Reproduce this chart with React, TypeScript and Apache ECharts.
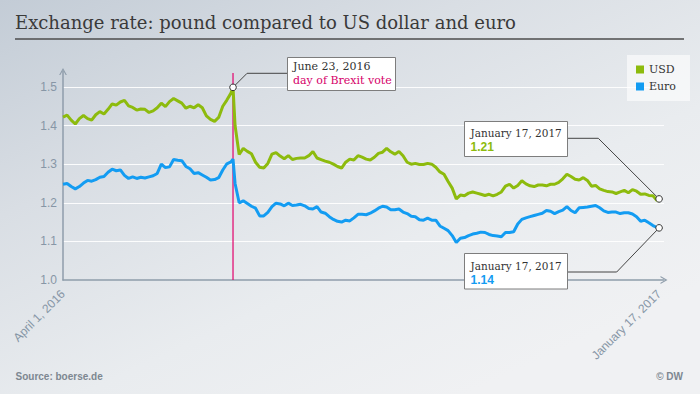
import React, { useEffect, useRef } from "react";
import * as echarts from "echarts";

const title = "Exchange rate: pound compared to US dollar and euro";
const seriesNames = ["USD", "Euro"];
// x positions are day offsets from April 1, 2016
const dayOffsets = [
  0, 2, 4, 6, 8, 10, 12, 14, 16, 18, 20, 22, 24, 26, 28, 30, 32, 34, 36, 38, 40,
  42, 44, 46, 48, 50, 52, 54, 56, 58, 60, 62, 64, 66, 68, 70, 72, 74, 76, 78, 80, 82,
  83,
  84, 86, 88, 90, 92, 94, 96, 98, 100, 102, 104, 106, 108, 110, 112, 114, 116, 118,
  120, 122, 124, 126, 128, 130, 132, 134, 136, 138, 140, 142, 144, 146, 148, 150,
  152, 154, 156, 158, 160, 162, 164, 166, 168, 170, 172, 174, 176, 178, 180, 182,
  184, 186, 188, 190, 192, 194, 196, 198, 200, 202, 204, 206, 208, 210, 212, 214,
  216, 218, 220, 222, 224, 226, 228, 230, 232, 234, 236, 238, 240, 242, 244, 246,
  248, 250, 252, 254, 256, 258, 260, 262, 264, 266, 268, 270, 272, 274, 276, 278,
  280, 282, 284, 286, 288, 290,
  291,
];

const usd = [
  1.422, 1.427, 1.414, 1.404, 1.418, 1.426, 1.418, 1.414, 1.428, 1.436, 1.43,
  1.442, 1.456, 1.453, 1.461, 1.465, 1.451, 1.447, 1.44, 1.443, 1.442, 1.434,
  1.438, 1.446, 1.458, 1.449, 1.462, 1.47, 1.464, 1.458, 1.445, 1.45, 1.446,
  1.454, 1.446, 1.425, 1.416, 1.411, 1.421, 1.45, 1.466, 1.484,
  1.499,
  1.4,
  1.325, 1.341, 1.333, 1.327, 1.305, 1.292, 1.29, 1.302, 1.326, 1.33,
  1.321, 1.314, 1.322, 1.312, 1.315, 1.316, 1.316, 1.322, 1.333, 1.316,
  1.312, 1.308, 1.305, 1.3, 1.294, 1.29, 1.305, 1.313, 1.311, 1.322,
  1.318, 1.313, 1.311, 1.318, 1.328, 1.331, 1.341, 1.332, 1.326, 1.333,
  1.322, 1.305, 1.3, 1.302, 1.299, 1.299, 1.302, 1.3, 1.292, 1.28,
  1.274, 1.255, 1.238, 1.21, 1.22, 1.218, 1.225, 1.228, 1.225, 1.222,
  1.219, 1.222, 1.218, 1.222, 1.228, 1.243, 1.248, 1.238, 1.245, 1.257,
  1.249, 1.244, 1.242, 1.246, 1.246, 1.244, 1.248, 1.248, 1.253, 1.262,
  1.274, 1.268, 1.261, 1.259, 1.265, 1.258, 1.243, 1.245, 1.236, 1.232,
  1.229, 1.228, 1.224, 1.228, 1.232, 1.226, 1.234, 1.23, 1.222, 1.223,
  1.219, 1.218, 1.206,
  1.21,
];

const eur = [
  1.248, 1.25, 1.242, 1.236, 1.242, 1.251, 1.258, 1.256, 1.26, 1.266, 1.268,
  1.279, 1.287, 1.283, 1.285, 1.271, 1.263, 1.267, 1.263, 1.266, 1.264, 1.267,
  1.27, 1.276, 1.3, 1.291, 1.293, 1.312, 1.31, 1.309, 1.294, 1.288, 1.276,
  1.278, 1.272, 1.266, 1.259, 1.26, 1.265, 1.285, 1.301, 1.306,
  1.313,
  1.25,
  1.2, 1.205, 1.198, 1.191, 1.186, 1.166, 1.166, 1.175, 1.19, 1.199,
  1.197, 1.192, 1.199, 1.193, 1.194, 1.196, 1.192, 1.185, 1.184, 1.19,
  1.176, 1.173, 1.164, 1.157, 1.152, 1.15, 1.155, 1.153, 1.161, 1.17,
  1.17, 1.169, 1.173, 1.179, 1.186, 1.191, 1.189, 1.182, 1.182, 1.184,
  1.176, 1.172, 1.165, 1.164, 1.156, 1.155, 1.16, 1.155, 1.155, 1.14,
  1.134, 1.128, 1.115, 1.097, 1.108, 1.11, 1.115, 1.119, 1.121, 1.124,
  1.123, 1.118, 1.115, 1.114, 1.112, 1.123, 1.123, 1.125, 1.145, 1.157,
  1.161, 1.164, 1.167, 1.17, 1.173, 1.18, 1.178, 1.172, 1.177, 1.181,
  1.19, 1.18, 1.174, 1.187, 1.188, 1.189, 1.191, 1.193, 1.187, 1.179,
  1.175, 1.176, 1.176, 1.172, 1.174, 1.174, 1.171, 1.164, 1.152, 1.155,
  1.148, 1.141, 1.136,
  1.135,
];

const brexitDay = 83;
const brexitLineTop = 1.536;
const brexitTexts = ["June 23, 2016", "day of Brexit vote"];
const endDateText = "January 17, 2017";
const usdEndText = "1.21";
const eurEndText = "1.14";
const xTickDays = [0, 291];
const xTickLabels = ["April 1, 2016", "January 17, 2017"];
const sourceText = "Source: boerse.de";
const creditText = "© DW";

const GREEN = "#8dbb0d";
const BLUE = "#139cf2";
const BREXIT = "#e2006b";
const AXIS = "#8f9dab";
const LABEL = "#8796a6";
const SERIF = "DejaVu Serif";
const SANS = "Liberation Sans";

export default function App() {
  const ref = useRef<HTMLDivElement>(null);

  useEffect(() => {
    const el = ref.current;
    if (!el) return;
    const chart = echarts.init(el, null, { renderer: "svg" });
    const n = Math.min(dayOffsets.length, usd.length, eur.length);
    const usdData: number[][] = [];
    const eurData: number[][] = [];
    for (let i = 0; i < n; i++) {
      usdData.push([dayOffsets[i], usd[i]]);
      eurData.push([dayOffsets[i], eur[i]]);
    }
    const bIdx = dayOffsets.indexOf(brexitDay);
    const last = n - 1;
    const chevron = "path://M0,9L5,0L10,9L8.4,9L5,2.8L1.6,9Z";

    const option: any = {
      animation: false,
      backgroundColor: "transparent",
      grid: { left: 63, right: 36, top: 71.5, bottom: 114, containLabel: false },
      legend: {
        data: seriesNames,
        orient: "vertical",
        left: 627,
        top: 55,
        icon: "rect",
        itemWidth: 8,
        itemHeight: 8,
        itemGap: 6,
        backgroundColor: "rgba(255,255,255,0.6)",
        padding: [9, 14, 9, 9],
        textStyle: { fontFamily: SERIF, fontSize: 11, color: "#333" },
      },
      xAxis: {
        type: "value",
        min: 0,
        max: 293.4,
        axisLine: {
          show: true,
          symbol: ["none", chevron],
          symbolSize: [8, 7],
          lineStyle: { color: AXIS, width: 1.5 },
        },
        axisTick: { show: false },
        splitLine: { show: false },
        axisLabel: {
          customValues: xTickDays,
          rotate: 45,
          margin: 12,
          color: LABEL,
          fontSize: 12,
          fontFamily: SANS,
          formatter: (v: number) => {
            const i = xTickDays.findIndex((t) => Math.abs(t - v) < 0.5);
            return i >= 0 ? xTickLabels[i] : "";
          },
        },
      },
      yAxis: {
        type: "value",
        min: 1,
        max: 1.54,
        interval: 0.1,
        axisLine: {
          show: true,
          symbol: ["none", chevron],
          symbolSize: [8, 7],
          lineStyle: { color: AXIS, width: 1.5 },
        },
        axisTick: { show: false },
        axisLabel: {
          showMaxLabel: false,
          margin: 6,
          color: LABEL,
          fontSize: 12,
          fontFamily: SANS,
          formatter: (v: number) =>
            Math.abs(v * 10 - Math.round(v * 10)) < 1e-6 ? v.toFixed(1) : "",
        },
        splitLine: {
          show: true,
          showMinLine: false,
          showMaxLine: false,
          lineStyle: { color: "rgba(255,255,255,0.9)", width: 1 },
        },
      },
      series: [
        {
          name: seriesNames[0],
          type: "line",
          data: usdData,
          showSymbol: false,
          color: GREEN,
          lineStyle: { width: 3, color: GREEN },
          z: 3,
        },
        {
          name: seriesNames[1],
          type: "line",
          data: eurData,
          showSymbol: false,
          color: BLUE,
          lineStyle: { width: 3, color: BLUE },
          z: 3,
        },
      ],
    };
    chart.setOption(option);

    const px = (d: number, v: number) =>
      chart.convertToPixel({ gridIndex: 0 } as any, [d, v]) as number[];
    const pB = px(dayOffsets[bIdx], usd[bIdx]);
    const pU = px(dayOffsets[last], usd[last]);
    const pE = px(dayOffsets[last], eur[last]);
    const vBot = px(brexitDay, 1.0);
    const vTop = px(brexitDay, brexitLineTop);

    const txt = (x: number, y: number, text: string, o: any = {}) => ({
      type: "text",
      x,
      y,
      z: 30,
      silent: true,
      style: {
        text,
        fill: o.fill || "#333",
        fontSize: o.size || 11,
        fontFamily: o.font || SERIF,
        fontWeight: o.weight || "normal",
        align: o.align || "left",
        verticalAlign: "middle",
      },
    });
    const box = (x: number, y: number, w: number, h: number) => ({
      type: "rect",
      z: 25,
      silent: true,
      shape: { x, y, width: w, height: h },
      style: { fill: "#ffffff", stroke: "#7d7d7d", lineWidth: 1 },
    });
    const conn = (pts: number[][]) => ({
      type: "polyline",
      z: 24,
      silent: true,
      shape: { points: pts },
      style: { stroke: "#444", lineWidth: 1, fill: null },
    });
    const dot = (p: number[]) => ({
      type: "circle",
      z: 35,
      silent: true,
      shape: { cx: p[0], cy: p[1], r: 3.3 },
      style: { fill: "#fff", stroke: "#333", lineWidth: 1 },
    });

    const bendY = 73.3;
    const graphic = [
      txt(15, 22.5, title, { size: 18, fill: "#3a3a3a" }),
      {
        type: "line",
        silent: true,
        shape: { x1: 15, y1: 39, x2: 684, y2: 39 },
        style: { stroke: "#4d4d4d", lineWidth: 1.5 },
      },
      txt(15.5, 376, sourceText, { font: SANS, size: 10, weight: "bold", fill: "#7d8791" }),
      txt(683, 376, creditText, { font: SANS, size: 10, weight: "bold", fill: "#7d8791", align: "right" }),

      {
        type: "line",
        silent: true,
        z: 2,
        shape: { x1: vBot[0], y1: vBot[1], x2: vTop[0], y2: vTop[1] },
        style: { stroke: BREXIT, lineWidth: 1.2 },
      },

      conn([[pB[0], pB[1]], [pB[0] + (pB[1] - bendY), bendY], [287.5, bendY]]),
      box(287.5, 57.5, 108, 33),
      txt(293, 66.3, brexitTexts[0]),
      txt(293, 80.3, brexitTexts[1], { fill: "#d6006a" }),

      conn([[567.5, 138.3], [598.3, 138.3], [pU[0], pU[1]]]),
      box(464.5, 121.5, 103, 35),
      txt(470.5, 132.5, endDateText, { size: 10.5 }),
      txt(470.5, 147, usdEndText, { font: SANS, size: 12, weight: "bold", fill: GREEN }),

      conn([[567.5, 272], [616.7, 272], [pE[0], pE[1]]]),
      box(464.5, 253.5, 103, 35.5),
      txt(470.5, 265.5, endDateText, { size: 10.5 }),
      txt(470.5, 279.5, eurEndText, { font: SANS, size: 12, weight: "bold", fill: BLUE }),

      dot(pB),
      dot(pU),
      dot(pE),
    ];
    chart.setOption({ graphic });

    return () => chart.dispose();
  }, []);

  return (
    <div
      ref={ref}
      style={{
        position: "fixed",
        left: 0,
        top: 0,
        width: 700,
        height: 394,
        background:
          "linear-gradient(155deg, #c3ccd6 0%, #d9dee4 30%, #e9ecef 60%, #f0f1f3 85%)",
      }}
    />
  );
}
